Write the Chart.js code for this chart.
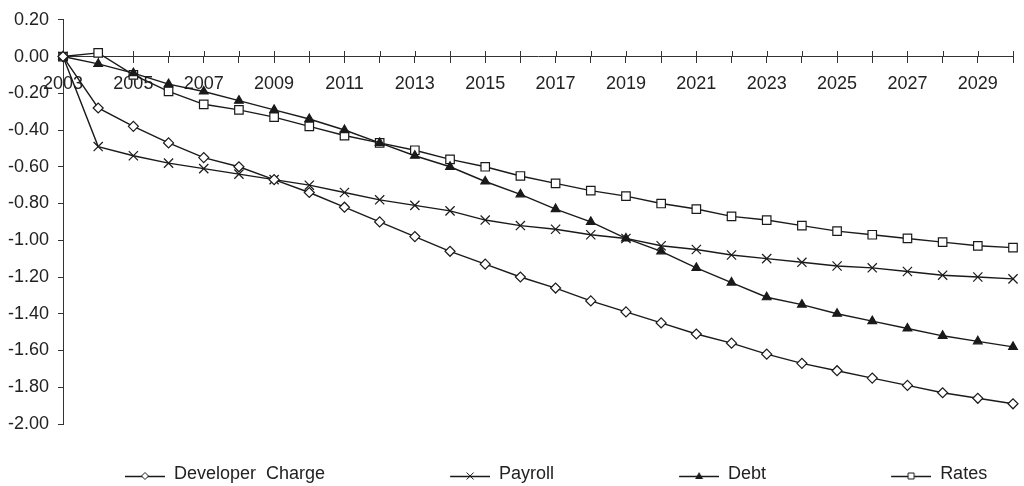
<!DOCTYPE html>
<html>
<head>
  <meta charset="UTF-8">
  <title>Developer Charge, Payroll, Debt, Rates</title>
  <script src="https://cdn.jsdelivr.net/npm/chart.js"></script>
  <style>
    body { margin: 0; background: #fff; }
  </style>
</head>
<body>
  <canvas id="chart" width="1024" height="486"></canvas>

  <script>
    const years = ['2003', '2004', '2005', '2006', '2007', '2008', '2009', '2010', '2011', '2012',
      '2013', '2014', '2015', '2016', '2017', '2018', '2019', '2020', '2021', '2022',
      '2023', '2024', '2025', '2026', '2027', '2028', '2029', '2030'];

    const developerCharge = [0, -0.28, -0.38, -0.47, -0.55, -0.60, -0.67, -0.74, -0.82, -0.90,
      -0.98, -1.06, -1.13, -1.20, -1.26, -1.33, -1.39, -1.45, -1.51, -1.56,
      -1.62, -1.67, -1.71, -1.75, -1.79, -1.83, -1.86, -1.89];
    const payroll = [0, -0.49, -0.54, -0.58, -0.61, -0.64, -0.67, -0.70, -0.74, -0.78,
      -0.81, -0.84, -0.89, -0.92, -0.94, -0.97, -0.99, -1.03, -1.05, -1.08,
      -1.10, -1.12, -1.14, -1.15, -1.17, -1.19, -1.20, -1.21];
    const debt = [0, -0.04, -0.09, -0.15, -0.19, -0.24, -0.29, -0.34, -0.40, -0.47,
      -0.54, -0.60, -0.68, -0.75, -0.83, -0.90, -0.99, -1.06, -1.15, -1.23,
      -1.31, -1.35, -1.40, -1.44, -1.48, -1.52, -1.55, -1.58];
    const rates = [0, 0.02, -0.10, -0.19, -0.26, -0.29, -0.33, -0.38, -0.43, -0.47,
      -0.51, -0.56, -0.60, -0.65, -0.69, -0.73, -0.76, -0.80, -0.83, -0.87,
      -0.89, -0.92, -0.95, -0.97, -0.99, -1.01, -1.03, -1.04];

    const FONT = "'Liberation Sans', Arial, sans-serif";
    const INK = '#1a1a1a';
    const AXIS = '#333';

    // legend sample: blank space on the left, then a short line with the marker
    function legendSample(style) {
      const c = document.createElement('canvas');
      c.width = 162;
      c.height = 18;
      const g = c.getContext('2d');
      const y = 11, cx = 142;
      g.strokeStyle = INK;
      g.lineWidth = 1.3;
      g.beginPath();
      g.moveTo(122, y + 0.5);
      g.lineTo(162, y + 0.5);
      g.stroke();
      g.fillStyle = '#fff';
      g.lineWidth = 1;
      g.beginPath();
      if (style === 'diamond') {
        g.moveTo(cx, y - 3.5); g.lineTo(cx + 3.5, y); g.lineTo(cx, y + 3.5); g.lineTo(cx - 3.5, y); g.closePath();
        g.fill(); g.stroke();
      } else if (style === 'x') {
        g.moveTo(cx - 3.5, y - 3.5); g.lineTo(cx + 3.5, y + 3.5);
        g.moveTo(cx + 3.5, y - 3.5); g.lineTo(cx - 3.5, y + 3.5);
        g.stroke();
      } else if (style === 'triangle') {
        g.fillStyle = INK;
        g.moveTo(cx, y - 4); g.lineTo(cx + 4, y + 3); g.lineTo(cx - 4, y + 3); g.closePath();
        g.fill();
      } else {
        g.rect(cx - 3, y - 3, 6, 6);
        g.fill(); g.stroke();
      }
      return c;
    }
    const samples = [legendSample('diamond'), legendSample('x'), legendSample('triangle'), legendSample('square')];

    const tickUp = {
      id: 'tickUp',
      beforeDatasetsDraw(chart) {
        const xs = chart.scales.x;
        const y0 = Math.round(chart.scales.y.getPixelForValue(0));
        const ctx = chart.ctx;
        ctx.save();
        ctx.strokeStyle = AXIS;
        ctx.lineWidth = 1;
        xs.ticks.forEach((t, i) => {
          const px = Math.round(xs.getPixelForTick(i)) + 0.5;
          ctx.beginPath();
          ctx.moveTo(px, y0 - 6);
          ctx.lineTo(px, y0);
          ctx.stroke();
        });
        ctx.restore();
      }
    };

    function series(label, data, style, radius, fill) {
      return {
        label: label,
        data: data,
        borderColor: INK,
        borderWidth: 1.4,
        pointStyle: style,
        pointRadius: radius,
        pointHoverRadius: radius,
        pointBorderColor: INK,
        pointBackgroundColor: fill,
        pointBorderWidth: 1.2,
        tension: 0,
        clip: false,
        fill: false
      };
    }

    new Chart(document.getElementById('chart'), {
      type: 'line',
      data: {
        labels: years,
        datasets: [
          series('Developer  Charge', developerCharge, 'rectRot', 5, '#fff'),
          series('Payroll', payroll, 'crossRot', 6.5, '#fff'),
          series('Debt', debt, 'triangle', 5, INK),
          series('Rates', rates, 'rect', 6, '#fff')
        ]
      },
      options: {
        responsive: false,
        animation: false,
        layout: { padding: { left: 0, right: 9, top: 17, bottom: -7 } },
        plugins: {
          tooltip: { enabled: false },
          legend: {
            position: 'bottom',
            align: 'start',
            title: { display: true, text: '', font: { size: 10 }, padding: { top: 26, bottom: 0 } },
            labels: {
              usePointStyle: true,
              pointStyleWidth: 162,
              padding: 3,
              color: '#222',
              font: { family: FONT, size: 18 },
              generateLabels(chart) {
                const items = Chart.defaults.plugins.legend.labels.generateLabels(chart);
                items.forEach((it, i) => { it.pointStyle = samples[i]; });
                return items;
              }
            }
          }
        },
        scales: {
          x: {
            type: 'category',
            position: { y: 0 },
            offset: false,
            grid: { drawOnChartArea: false, drawTicks: true, tickLength: 6, color: AXIS },
            border: { display: true, color: AXIS, width: 1 },
            ticks: {
              autoSkip: false,
              maxRotation: 0,
              padding: 11,
              color: '#222',
              font: { family: FONT, size: 18 },
              callback: (v, i) => (i % 2 === 0 ? years[i] : '')
            }
          },
          y: {
            min: -2,
            max: 0.2,
            afterFit(scale) { scale.width = 63; },
            grid: { drawOnChartArea: false, drawTicks: true, tickLength: 5, color: AXIS },
            border: { display: true, color: AXIS, width: 1 },
            ticks: {
              stepSize: 0.2,
              padding: 9,
              color: '#222',
              font: { family: FONT, size: 18 },
              callback: v => v.toFixed(2)
            }
          }
        }
      },
      plugins: [tickUp]
    });
  </script>
</body>
</html>
